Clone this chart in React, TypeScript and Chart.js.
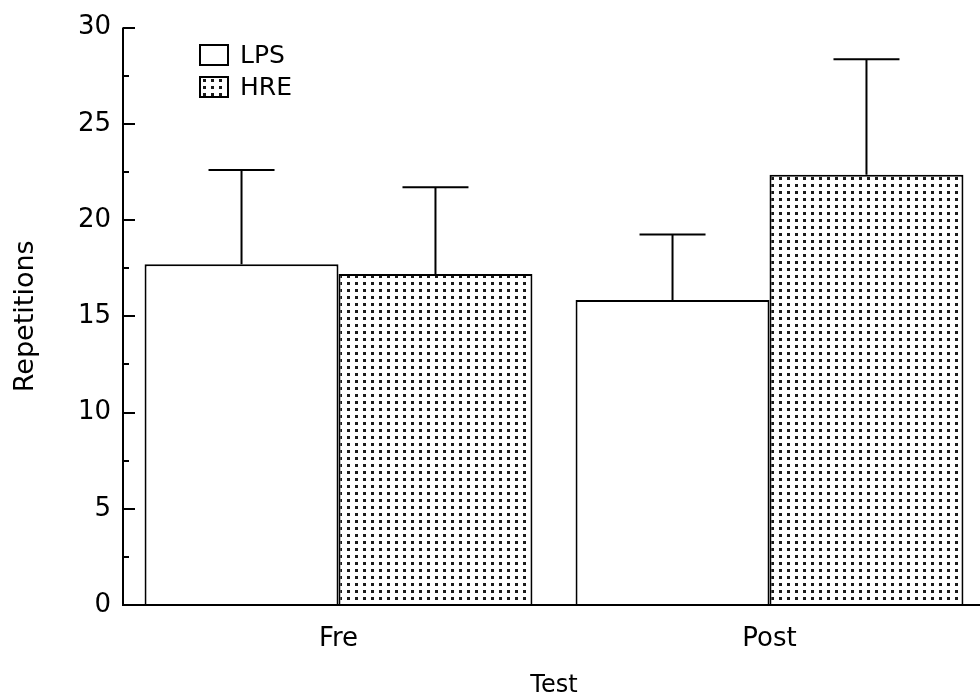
import React, { useEffect, useRef } from "react";
import { Chart, registerables } from "chart.js";

Chart.register(...registerables);

// Test occasions on the x axis
const categories = ["Fre", "Post"];
// Group means (repetitions) and the upper error-bar lengths
const lpsMeans = [17.7, 15.85];
const lpsErrors = [4.9, 3.4];
const hreMeans = [17.2, 22.35];
const hreErrors = [4.5, 6.0];
// Y axis range and tick spacing
const yMin = 0;
const yMax = 30;
const yStep = 5;

const FONT = "'DejaVu Sans', 'Liberation Sans', sans-serif";
const INK = "#000";

function makeDotPattern(): CanvasPattern | string {
  const tile = document.createElement("canvas");
  tile.width = 8;
  tile.height = 7;
  const t = tile.getContext("2d");
  if (!t) return "#ccc";
  t.fillStyle = "#fff";
  t.fillRect(0, 0, 8, 7);
  t.fillStyle = "#1a1a1a";
  t.fillRect(3, 2, 3, 3);
  const main = document.createElement("canvas").getContext("2d");
  return (main && main.createPattern(tile, "repeat")) || "#ccc";
}

// Axis lines with inward major/minor tick marks
const axesPlugin = {
  id: "axesFrame",
  afterDraw(chart: any) {
    const { ctx, chartArea, scales } = chart;
    const y = scales.y;
    ctx.save();
    ctx.strokeStyle = INK;
    ctx.lineWidth = 2;
    ctx.beginPath();
    ctx.moveTo(chartArea.left, chartArea.top);
    ctx.lineTo(chartArea.left, chartArea.bottom);
    ctx.lineTo(chart.width, chartArea.bottom);
    ctx.stroke();
    for (let v = yMin; v <= yMax + 1e-9; v += yStep / 2) {
      const isMajor = Math.abs(v / yStep - Math.round(v / yStep)) < 1e-6;
      const py = Math.round(y.getPixelForValue(v));
      ctx.beginPath();
      ctx.moveTo(chartArea.left, py);
      ctx.lineTo(chartArea.left + (isMajor ? 12 : 6), py);
      ctx.stroke();
    }
    ctx.restore();
  },
};

// Upper error bars (stem + cap) on top of each bar
const errorBarPlugin = {
  id: "errorBars",
  afterDatasetsDraw(chart: any) {
    const { ctx, scales } = chart;
    ctx.save();
    ctx.strokeStyle = INK;
    ctx.lineWidth = 2;
    chart.data.datasets.forEach((ds: any, di: number) => {
      const meta = chart.getDatasetMeta(di);
      meta.data.forEach((bar: any, i: number) => {
        const top = scales.y.getPixelForValue(ds.data[i] + ds.errors[i]);
        ctx.beginPath();
        ctx.moveTo(bar.x, bar.y);
        ctx.lineTo(bar.x, top);
        ctx.moveTo(bar.x - 33, top);
        ctx.lineTo(bar.x + 33, top);
        ctx.stroke();
      });
    });
    ctx.restore();
  },
};

// Boxed legend in the upper-left of the plot
const legendPlugin = {
  id: "boxLegend",
  afterDraw(chart: any) {
    const { ctx } = chart;
    ctx.save();
    ctx.font = `25px ${FONT}`;
    ctx.textBaseline = "middle";
    ctx.textAlign = "left";
    chart.data.datasets.forEach((ds: any, i: number) => {
      const bx = 200;
      const by = 45 + i * 32;
      ctx.fillStyle = ds.backgroundColor;
      ctx.fillRect(bx, by, 28, 20);
      ctx.strokeStyle = INK;
      ctx.lineWidth = 2;
      ctx.strokeRect(bx, by, 28, 20);
      ctx.fillStyle = INK;
      ctx.fillText(ds.label, bx + 40, by + 11);
    });
    ctx.restore();
  },
};

export default function App() {
  const canvasRef = useRef<HTMLCanvasElement | null>(null);

  useEffect(() => {
    const canvas = canvasRef.current;
    if (!canvas) return;
    const dots = makeDotPattern();
    const chart = new Chart(canvas, {
      type: "bar",
      data: {
        labels: categories,
        datasets: [
          {
            label: "LPS",
            data: lpsMeans,
            errors: lpsErrors,
            backgroundColor: "#fff",
            borderColor: INK,
            borderWidth: 2,
            borderSkipped: "bottom",
          } as any,
          {
            label: "HRE",
            data: hreMeans,
            errors: hreErrors,
            backgroundColor: dots,
            borderColor: INK,
            borderWidth: 2,
            borderSkipped: "bottom",
          } as any,
        ],
      },
      options: {
        responsive: false,
        animation: false,
        layout: { padding: { top: 24, right: 5, left: 0, bottom: 0 } },
        datasets: { bar: { categoryPercentage: 0.9, barPercentage: 1.0 } },
        plugins: {
          legend: { display: false },
          tooltip: { enabled: false },
        },
        scales: {
          x: {
            grid: { display: false, drawTicks: false },
            border: { display: false },
            ticks: { color: INK, font: { family: FONT, size: 26 }, padding: 19 },
            title: {
              display: true,
              text: "Test",
              color: INK,
              font: { family: FONT, size: 24 },
              padding: { top: 0, bottom: 0 },
            },
            afterFit: (s: any) => {
              s.height = 95;
            },
          },
          y: {
            min: yMin,
            max: yMax,
            grid: { display: false, drawTicks: false },
            border: { display: false },
            ticks: { stepSize: yStep, color: INK, font: { family: FONT, size: 26 }, padding: 12 },
            title: {
              display: true,
              text: "Repetitions",
              color: INK,
              font: { family: FONT, size: 27 },
              padding: { top: 10, bottom: 0 },
            },
            afterFit: (s: any) => {
              s.width = 123;
            },
          },
        },
      },
      plugins: [axesPlugin, errorBarPlugin, legendPlugin],
    });
    return () => chart.destroy();
  }, []);

  return (
    <div
      style={{
        position: "fixed",
        left: 0,
        top: 0,
        width: 980,
        height: 700,
        overflow: "hidden",
        background: "#fff",
      }}
    >
      <canvas ref={canvasRef} width={990} height={700} style={{ display: "block" }} />
    </div>
  );
}
